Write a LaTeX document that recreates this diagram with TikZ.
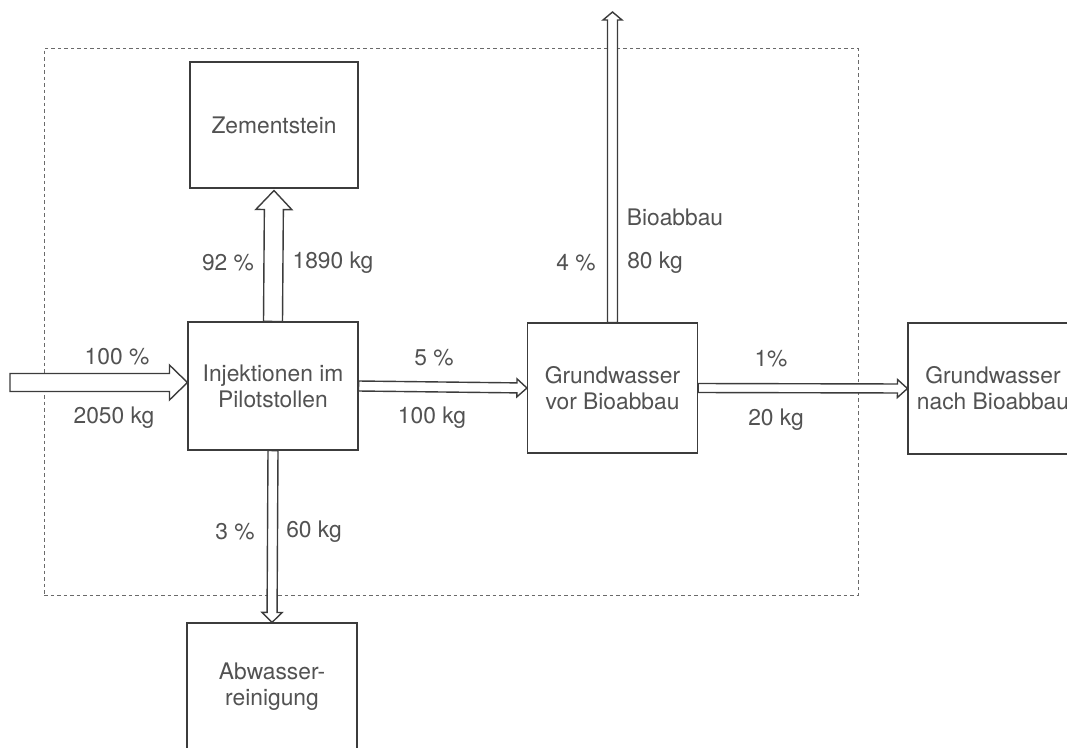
\documentclass[tikz,border=0pt]{standalone}
\usepackage{fontspec}
\setmainfont{TeX Gyre Heros}
\usepackage{tikz}
\usetikzlibrary{positioning, calc}

% hollow block arrow: from, to, half shaft, half head, head length
\newcommand{\flowarrow}[5]{%
  \coordinate (fa-c) at ($(#2)!#5!(#1)$);
  \draw[flow] ($(#1)!#3!90:(#2)$) -- ($(fa-c)!#3!90:(#2)$) -- ($(fa-c)!#4!90:(#2)$)
    -- (#2) -- ($(fa-c)!#4!-90:(#2)$) -- ($(fa-c)!#3!-90:(#2)$) -- ($(#1)!#3!-90:(#2)$) -- cycle;}

\begin{document}
\begin{tikzpicture}[
    x=1pt, y=-1pt,
    every node/.style={font=\fontsize{22.8}{26}\selectfont, text=textgray},
    box/.style={rectangle, draw=linegray, line width=1.1pt, fill=white,
        minimum width=170pt, minimum height=128pt, align=center, inner sep=0pt},
    flow/.style={draw=linegray, line width=1.4pt, fill=white, line join=miter},
    lbl/.style={inner sep=0pt},
]

% ── Colors ──
\definecolor{linegray}{HTML}{3C3C3C}
\definecolor{textgray}{HTML}{525252}
\definecolor{framegray}{HTML}{6A6A6A}

\useasboundingbox (0,0) rectangle (1067,747);

% ══════════════════════════════════════════════
% System boundary
% ══════════════════════════════════════════════
\node[rectangle, draw=framegray, line width=0.9pt, dash pattern=on 3.5pt off 3pt,
    minimum width=814pt, minimum height=547pt, inner sep=0pt]
    (system) at (451,321.5) {};

% ══════════════════════════════════════════════
% Boxes
% ══════════════════════════════════════════════
\node[box, minimum width=168pt, minimum height=126pt] (zement) at (274,125) {Zementstein};
\node[box] (inj) at (273,386) {Injektionen im\\Pilotstollen};
\node[box, minimum height=130pt] (gwvor) at (612.5,388) {Grundwasser\\vor Bioabbau};
\node[box, minimum height=131pt] (gwnach) at (993,388.5) {Grundwasser\\nach Bioabbau};
\node[box] (abw) at (272,687) {Abwasser-\\reinigung};

% free ends
\coordinate (src) at (10,382.5);
\coordinate (injin) at ([yshift=3.5pt]inj.west);
\coordinate (bio) at (612.5,12);
\coordinate (zementin) at ([yshift=-2pt]zement.south);

% ══════════════════════════════════════════════
% Flows
% ══════════════════════════════════════════════
\flowarrow{src}{injin}{9pt}{17.5pt}{18pt}
\flowarrow{inj.north}{zementin}{9.5pt}{18pt}{19pt}
\flowarrow{inj.east}{gwvor.west}{5pt}{9pt}{10pt}
\flowarrow{inj.south}{abw.north}{5pt}{10pt}{10pt}
\flowarrow{gwvor.north}{bio}{5pt}{9.5pt}{8pt}
\flowarrow{gwvor.east}{gwnach.west}{4.5pt}{9pt}{10pt}

% ══════════════════════════════════════════════
% Flow labels
% ══════════════════════════════════════════════
\node[lbl] (l-in-p) at (117,357) {100 \%};
\node[lbl] (l-in-m) at (114,418) {2050 kg};
\node[lbl] (l-ze-p) at (228,263) {92 \%};
\node[lbl] (l-ze-m) at (333,263) {1890 kg};
\node[lbl] (l-gw-p) at (434,358) {5 \%};
\node[lbl] (l-gw-m) at (432,418) {100 kg};
\node[lbl] (l-bio) at (675,217) {Bioabbau};
\node[lbl] (l-bio-p) at (576,263) {4 \%};
\node[lbl] (l-bio-m) at (655,263) {80 kg};
\node[lbl] (l-out-p) at (771,359) {1\%};
\node[lbl] (l-out-m) at (776,420) {20 kg};
\node[lbl] (l-abw-p) at (235,532) {3 \%};
\node[lbl] (l-abw-m) at (314,532) {60 kg};

\end{tikzpicture}
\end{document}
